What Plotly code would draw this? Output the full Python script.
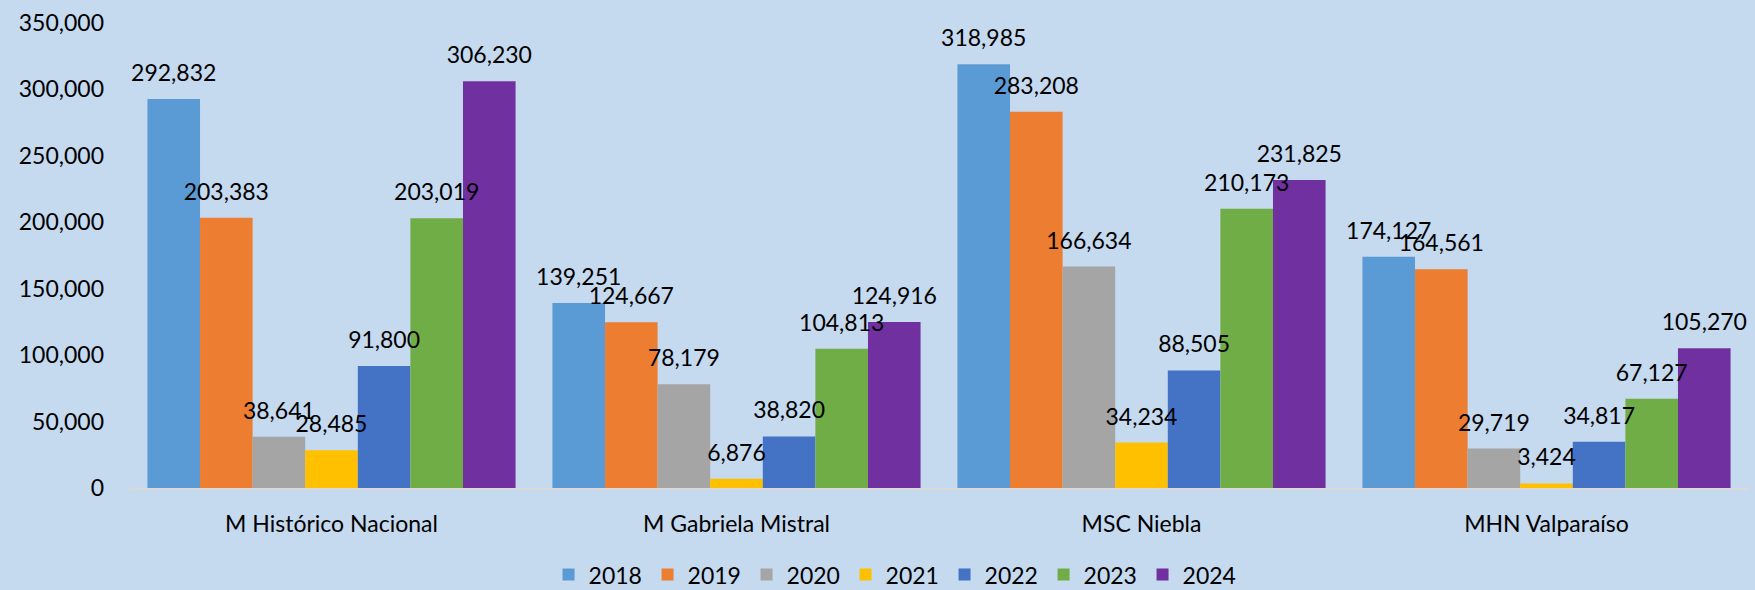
import plotly.graph_objects as go

categories = ["M Histórico Nacional", "M Gabriela Mistral", "MSC Niebla", "MHN Valparaíso"]
years = ["2018", "2019", "2020", "2021", "2022", "2023", "2024"]
v2018 = [292832, 139251, 318985, 174127]
v2019 = [203383, 124667, 283208, 164561]
v2020 = [38641, 78179, 166634, 29719]
v2021 = [28485, 6876, 34234, 3424]
v2022 = [91800, 38820, 88505, 34817]
v2023 = [203019, 104813, 210173, 67127]
v2024 = [306230, 124916, 231825, 105270]
series = [v2018, v2019, v2020, v2021, v2022, v2023, v2024]
colors = ["#5B9BD5", "#ED7D31", "#A5A5A5", "#FFC000", "#4472C4", "#70AD47", "#7030A0"]
ytick_vals = [0, 50000, 100000, 150000, 200000, 250000, 300000, 350000]

FONT = "Lato"
FS = 23
BG = "#C5D9EF"
GAP = 0.091

fig = go.Figure()
for yr, vals, col in zip(years, series, colors):
    fig.add_trace(go.Bar(
        name=yr, x=categories, y=vals, marker=dict(color=col, line=dict(width=0)),
        offsetgroup=yr, hoverinfo="skip",
    ))
for yr, vals in zip(years, series):
    fig.add_trace(go.Scatter(
        x=categories, y=vals, mode="markers+text", offsetgroup=yr,
        text=[f"{v:,}" for v in vals], textposition="top center",
        textfont=dict(family=FONT, size=FS, color="#000000"),
        marker=dict(size=18, opacity=0), showlegend=False, hoverinfo="skip",
        cliponaxis=False,
    ))

fig.update_layout(
    width=1755, height=590,
    barmode="group", bargap=GAP, bargroupgap=0,
    scattermode="group", scattergap=GAP,
    paper_bgcolor=BG, plot_bgcolor=BG,
    font=dict(family=FONT, size=FS, color="#000000"),
    margin=dict(l=129, r=6, t=23, b=102),
    xaxis=dict(showline=True, linecolor="#D9D9D9", linewidth=2, showgrid=False,
               ticks="", ticklabelstandoff=14, zeroline=False),
    yaxis=dict(range=[0, 350000], tickvals=ytick_vals, tickformat=",", showgrid=False,
               showline=False, zeroline=False, ticks="", ticklabelstandoff=24),
    legend=dict(orientation="h", xref="container", yref="container",
                x=0.51, xanchor="center", y=0.026, yanchor="middle",
                font=dict(family=FONT, size=FS), bgcolor="rgba(0,0,0,0)",
                traceorder="normal", entrywidth=54, entrywidthmode="pixels"),
    showlegend=True,
)

fig.write_html("out.html", config={"displayModeBar": False},
               post_script="document.body.style.margin='0px';document.body.style.overflow='hidden';")
